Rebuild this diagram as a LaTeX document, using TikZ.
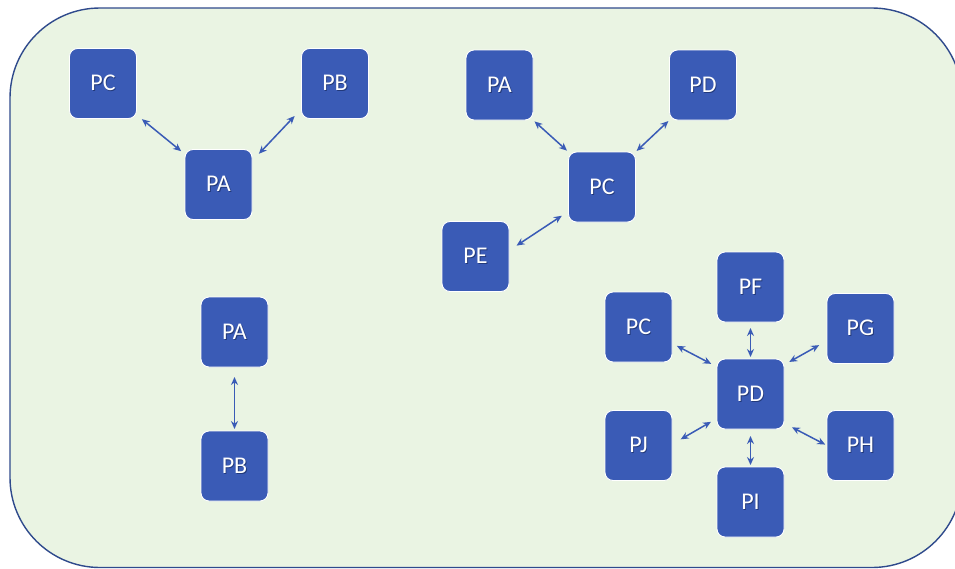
\documentclass[tikz,border=0pt]{standalone}
\usepackage{fontspec}
\setmainfont{Carlito}
\usetikzlibrary{arrows.meta}
\definecolor{panelfill}{HTML}{EAF4E3}
\definecolor{panelline}{HTML}{2F4A8C}
\definecolor{procblue}{HTML}{3A5BB6}
\definecolor{procshade}{HTML}{22397A}
% white label with a soft drop shadow
\newcommand\shlabel[1]{\leavevmode\rlap{\hspace{0.9pt}\raisebox{-1pt}{\textcolor{procshade}{#1}}}\textcolor{white}{#1}}
\tikzset{
  proc/.style={rectangle, rounded corners=8pt, fill=procblue, draw=white,
    line width=0.9pt, minimum width=67pt, minimum height=70pt, outer sep=0pt,
    inner sep=0pt, font=\fontsize{24}{24}\selectfont},
  link/.style={draw=procblue, line width=1.5pt,
    {Stealth[length=8pt,width=7pt]}-{Stealth[length=8pt,width=7pt]}}
}
\begin{document}
\begin{tikzpicture}[x=1pt,y=-1pt]
  \useasboundingbox (0,0) rectangle (955,568);
  \clip (0,0) rectangle (955,568);
  % background panel
  \draw[panelline, fill=panelfill, line width=1.4pt, rounded corners=90pt]
    (10,8) rectangle (962,567.5);

  % triangle group
  \node[proc] (a1) at (218.5,184.5) {\shlabel{PA}};
  \node[proc] (c1) at (103,83.5) {\shlabel{PC}};
  \node[proc] (b1) at (335,83.5) {\shlabel{PB}};
  \draw[link, shorten <=7pt, shorten >=5pt] (c1.-43) -- (a1.138);
  \draw[link, shorten <=10pt, shorten >=10pt] (a1.35) -- (b1.217);

  % star around PC
  \node[proc] (c2) at (602,187) {\shlabel{PC}};
  \node[proc] (a2) at (499.5,85) {\shlabel{PA}};
  \node[proc] (d2) at (703,85) {\shlabel{PD}};
  \node[proc] (e2) at (475.5,256.5) {\shlabel{PE}};
  \draw[link, shorten <=2pt, shorten >=2pt] (a2.south east) -- (c2.north west);
  \draw[link, shorten <=1.5pt, shorten >=1.5pt] (c2.north east) -- (d2.south west);
  \draw[link, shorten <=9pt, shorten >=8pt] (e2.10) -- (c2.216);

  % pair
  \node[proc] (a3) at (234.5,332) {\shlabel{PA}};
  \node[proc] (b3) at (234.5,466) {\shlabel{PB}};
  \draw[link, shorten <=10pt, shorten >=2pt] (a3.south) -- (b3.north);

  % star around PD
  \node[proc] (d4) at (750.5,394) {\shlabel{PD}};
  \node[proc] (f4) at (750.5,287) {\shlabel{PF}};
  \node[proc] (c4) at (638.5,327) {\shlabel{PC}};
  \node[proc] (g4) at (860.5,328.5) {\shlabel{PG}};
  \node[proc] (j4) at (638.5,445.5) {\shlabel{PJ}};
  \node[proc] (h4) at (860.5,445.5) {\shlabel{PH}};
  \node[proc] (i4) at (750.5,502) {\shlabel{PI}};
  \draw[link, shorten <=6pt, shorten >=2pt] (f4.south) -- (d4.north);
  \draw[link, shorten <=7pt, shorten >=2pt] (d4.south) -- (i4.north);
  \draw[link, shorten <=5.5pt, shorten >=6.5pt] (c4.-26) -- (d4.141);
  \draw[link, shorten <=9pt, shorten >=6pt] (g4.200) -- (d4.41);
  \draw[link, shorten <=10pt, shorten >=7pt] (j4.2) -- (d4.216);
  \draw[link, shorten <=2pt, shorten >=9pt] (h4.west) -- (d4.-41);
\end{tikzpicture}
\end{document}
